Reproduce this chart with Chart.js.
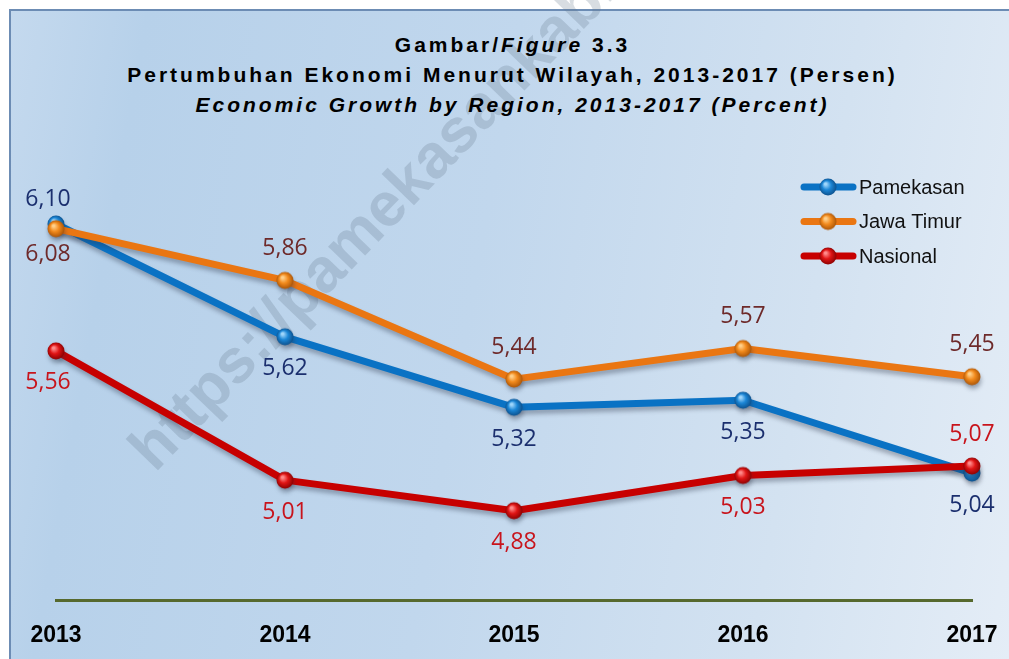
<!DOCTYPE html>
<html>
<head>
<meta charset="utf-8">
<script src="https://cdn.jsdelivr.net/npm/chart.js@4.4.0/dist/chart.umd.min.js"></script>
<style>
  html, body { margin: 0; padding: 0; background: #fff; }
  #wrap {
    position: relative; width: 1009px; height: 659px; overflow: hidden;
  }
  #frame {
    position: absolute; left: 9px; top: 9px; width: 1020px; height: 670px;
    border: 2px solid #6c8cb4;
    background: linear-gradient(100deg, #c4d9ee 0%, #b7d1ea 12%, #c1d7ed 45%, #d3e2f1 75%, #e6eef7 100%);
  }
  #mark {
    position: absolute; left: 165px; top: 412px;
    transform-origin: left bottom; transform: rotate(-46deg);
    font: bold 62px "Liberation Sans", Arial, sans-serif;
    color: rgba(100, 120, 140, 0.25); white-space: nowrap;
  }
  #title {
    position: absolute; left: 0; top: 30px; width: 1025px; text-align: center;
    font: bold 21px "Liberation Sans", Arial, sans-serif; letter-spacing: 3px;
    line-height: 30px; color: #000;
  }
  canvas { position: absolute; left: 0; top: 0; }
</style>
</head>
<body>
<div id="wrap">
  <div id="frame"></div>
  <div id="mark">https://pamekasankab.bps.go.id</div>
  <div id="title">
    Gambar/<i>Figure</i> 3.3<br>
    Pertumbuhan Ekonomi Menurut Wilayah, 2013-2017 (Persen)<br>
    <i>Economic Growth by Region, 2013-2017 (Percent)</i>
  </div>
  <canvas id="lineChart" width="1009" height="659"></canvas>
</div>
<script>
const years = ['2013', '2014', '2015', '2016', '2017'];
const pamekasan = [6.10, 5.62, 5.32, 5.35, 5.04];
const jawaTimur = [6.08, 5.86, 5.44, 5.57, 5.45];
const nasional = [5.56, 5.01, 4.88, 5.03, 5.07];
// where each value label sits relative to its point
const pamekasanPos = ['up', 'down', 'down', 'down', 'down'];
const jawaTimurPos = ['down', 'up', 'up', 'up', 'up'];
const nasionalPos = ['down', 'down', 'down', 'down', 'up'];

function makeBall(light, base, dark) {
    const c = document.createElement('canvas');
    c.width = 20; c.height = 20;
    const g = c.getContext('2d');
    const grad = g.createRadialGradient(7.5, 7, 1, 10, 10, 9);
    grad.addColorStop(0, light);
    grad.addColorStop(0.45, base);
    grad.addColorStop(1, dark);
    g.fillStyle = grad;
    g.beginPath();
    g.arc(10, 10, 8.5, 0, Math.PI * 2);
    g.fill();
    return c;
}

const blueBall = makeBall('#9fd6fb', '#1b86d6', '#0b4d88');
const orangeBall = makeBall('#ffd08a', '#f28a1c', '#a65206');
const redBall = makeBall('#ff8a8a', '#e01515', '#860000');

const shadowPlugin = {
    id: 'lineShadow',
    beforeDatasetDraw(chart) {
        const ctx = chart.ctx;
        ctx.save();
        ctx.shadowColor = 'rgba(40,50,70,0.35)';
        ctx.shadowBlur = 4;
        ctx.shadowOffsetX = 1;
        ctx.shadowOffsetY = 4;
    },
    afterDatasetDraw(chart) {
        chart.ctx.restore();
    }
};

const valueLabels = {
    id: 'valueLabels',
    afterDatasetsDraw(chart) {
        const ctx = chart.ctx;
        ctx.save();
        ctx.font = '23px "Open Sans", "Noto Sans", sans-serif';
        ctx.textAlign = 'center';
        ctx.textBaseline = 'middle';
        chart.data.datasets.forEach((ds, i) => {
            const meta = chart.getDatasetMeta(i);
            meta.data.forEach((pt, j) => {
                let dy = ds.labelPos[j] === 'up' ? -32 : 32;
                if (j === 0 && i !== 2) dy = dy < 0 ? -25 : 26;
                const dx = j === 0 ? -8 : 0;
                ctx.fillStyle = ds.labelColor;
                ctx.fillText(ds.data[j].toFixed(2).replace('.', ','), pt.x + dx, pt.y + dy);
            });
        });
        ctx.restore();
    }
};

const legendLines = {
    id: 'legendLines',
    afterDraw(chart) {
        const ctx = chart.ctx;
        ctx.save();
        ctx.font = '20px "Liberation Sans", Arial, sans-serif';
        ctx.textBaseline = 'middle';
        chart.data.datasets.forEach((ds, i) => {
            const y = 187 + i * 34.5;
            ctx.strokeStyle = ds.borderColor;
            ctx.lineWidth = 7;
            ctx.lineCap = 'round';
            ctx.beginPath();
            ctx.moveTo(804, y);
            ctx.lineTo(853, y);
            ctx.stroke();
            ctx.drawImage(ds.pointStyle, 818, y - 10);
            ctx.fillStyle = '#111';
            ctx.fillText(ds.label, 859, y + 1);
        });
        ctx.restore();
    }
};

const ctx = document.getElementById('lineChart').getContext('2d');
new Chart(ctx, {
    type: 'line',
    data: {
        labels: years,
        datasets: [
            {
                label: 'Pamekasan', data: pamekasan, order: 2,
                borderColor: '#0a72c4', pointStyle: blueBall,
                labelColor: '#1b2f6e', labelPos: pamekasanPos
            },
            {
                label: 'Jawa Timur', data: jawaTimur, order: 1,
                borderColor: '#ea7612', pointStyle: orangeBall,
                labelColor: '#6e2a2a', labelPos: jawaTimurPos
            },
            {
                label: 'Nasional', data: nasional, order: 0,
                borderColor: '#c70000', pointStyle: redBall,
                labelColor: '#c8141c', labelPos: nasionalPos
            }
        ]
    },
    options: {
        responsive: false,
        animation: false,
        layout: { padding: { left: 56, right: 37, top: 130, bottom: 11 } },
        elements: {
            line: { borderWidth: 7, tension: 0, borderJoinStyle: 'round', borderCapStyle: 'round' },
            point: { radius: 9 }
        },
        datasets: { line: { clip: false } },
        plugins: {
            legend: { display: false },
            tooltip: { enabled: false }
        },
        scales: {
            x: {
                offset: false,
                grid: { display: false, drawTicks: false },
                border: { color: '#56692e', width: 3 },
                ticks: {
                    color: '#000',
                    padding: 22,
                    font: { family: '"Liberation Sans", Arial, sans-serif', size: 23, weight: 'bold' }
                },
                afterFit(scale) {
                    scale.height = 48;
                    scale.paddingLeft = 0;
                    scale.paddingRight = 0;
                }
            },
            y: { display: false, min: 4.5, max: 6.5 }
        }
    },
    plugins: [shadowPlugin, valueLabels, legendLines]
});
</script>
</body>
</html>
